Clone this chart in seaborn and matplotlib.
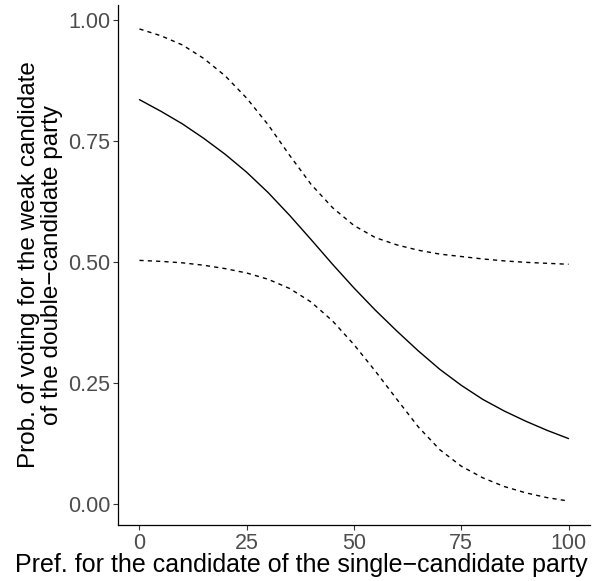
import matplotlib
matplotlib.use("Agg")
import matplotlib.pyplot as plt
import seaborn as sns
import pandas as pd

# Data
pref = [0, 5, 10, 15, 20, 25, 30, 35, 40, 45, 50, 55, 60, 65, 70, 75, 80, 85, 90, 95, 100]
prob = [0.835, 0.811, 0.785, 0.755, 0.722, 0.685, 0.643, 0.596, 0.546, 0.495, 0.446,
        0.400, 0.357, 0.316, 0.278, 0.245, 0.216, 0.192, 0.171, 0.152, 0.135]
upper = [0.981, 0.967, 0.948, 0.920, 0.884, 0.838, 0.783, 0.720, 0.660, 0.612, 0.575,
         0.550, 0.535, 0.524, 0.516, 0.511, 0.506, 0.502, 0.499, 0.497, 0.495]
lower = [0.503, 0.501, 0.498, 0.493, 0.486, 0.477, 0.464, 0.445, 0.417, 0.378, 0.329,
         0.274, 0.216, 0.159, 0.112, 0.078, 0.054, 0.036, 0.023, 0.013, 0.006]
x_ticks = [0, 25, 50, 75, 100]
y_ticks = [0.00, 0.25, 0.50, 0.75, 1.00]
y_tick_labels = ["0.00", "0.25", "0.50", "0.75", "1.00"]

xlab = "Pref. for the candidate of the single\u2212candidate party"
ylab = "Prob. of voting for the weak candidate\nof the double\u2212candidate party"

sns.set_theme(style="white")
plt.rcParams["font.family"] = ["Liberation Sans", "DejaVu Sans"]

df = pd.DataFrame({"pref": pref, "prob": prob, "upper": upper, "lower": lower})

fig = plt.figure(figsize=(5.92, 5.81), dpi=100)
ax = fig.add_axes([118 / 592, 1 - 525 / 581, (590 - 118) / 592, (525 - 5) / 581])

sns.lineplot(data=df, x="pref", y="prob", ax=ax, color="black", lw=1.0)
sns.lineplot(data=df, x="pref", y="upper", ax=ax, color="black", lw=1.0, linestyle=(0, (3, 3)))
sns.lineplot(data=df, x="pref", y="lower", ax=ax, color="black", lw=1.0, linestyle=(0, (3, 3)))

ax.set_xlim(-5, 105)
ax.set_ylim(-0.0435, 1.0305)
ax.set_xticks(x_ticks)
ax.set_xticklabels([str(t) for t in x_ticks])
ax.set_yticks(y_ticks)
ax.set_yticklabels(y_tick_labels)

for s in ["top", "right"]:
    ax.spines[s].set_visible(False)
for s in ["left", "bottom"]:
    ax.spines[s].set_color("black")
    ax.spines[s].set_linewidth(0.9)

ax.tick_params(axis="both", which="major", direction="out", length=3.5, width=0.8,
               color="#333333", labelsize=15.5, labelcolor="#4D4D4D", pad=2.0,
               bottom=True, left=True)

ax.set_xlabel(xlab, fontsize=18, color="black")
ax.set_ylabel(ylab, fontsize=17.5, color="black", linespacing=1.05)
ax.xaxis.set_label_coords((301 - 118) / (590 - 118), -(553 - 525) / 520)
ax.yaxis.set_label_coords(-(118 - 63) / 472, 0.5)

fig.savefig("out.png", dpi=100)
